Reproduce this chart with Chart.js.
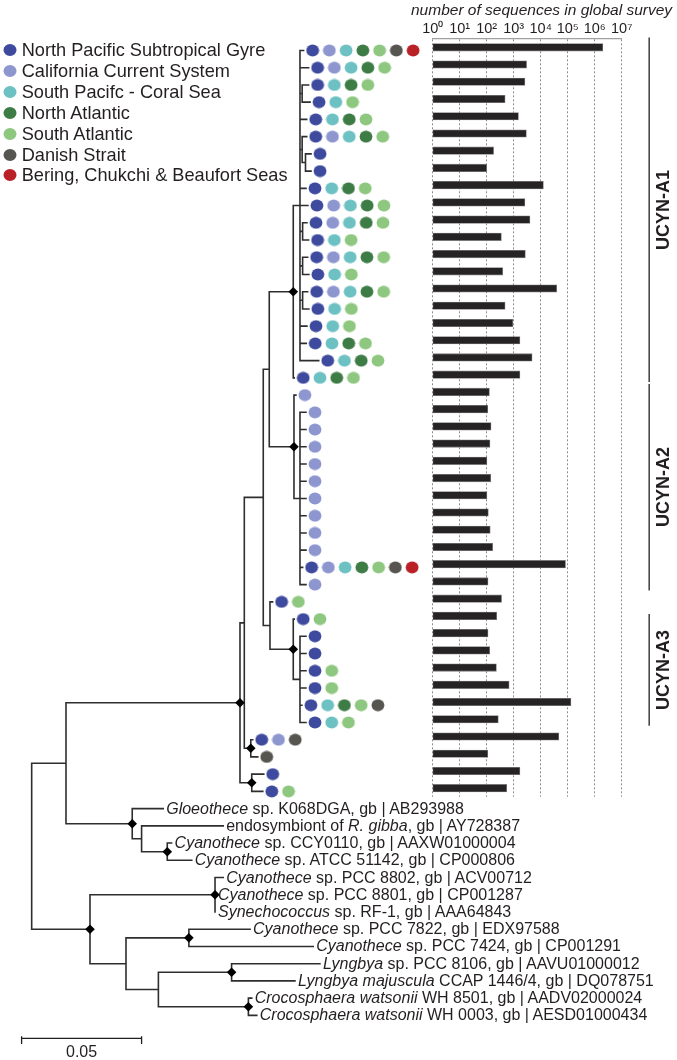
<!DOCTYPE html>
<html><head><meta charset="utf-8">
<script src="https://cdn.jsdelivr.net/npm/chart.js@4.4.1/dist/chart.umd.min.js"></script>
<style>
html,body{margin:0;padding:0;background:#fff;}
#wrap{position:relative;width:677px;height:1060px;overflow:hidden;font-family:"Liberation Sans",Arial,Helvetica,sans-serif;color:#231f20;}
#wrap canvas{position:absolute;}
#tree{left:0;top:0;z-index:1;}
#bars{left:400px;top:0;z-index:2;}
.t{position:absolute;white-space:nowrap;line-height:1;z-index:3;}
.sp{font-size:16px;transform:translateY(-50%);}
.leg{font-size:18.2px;transform:translateY(-50%);}
.legdot{position:absolute;width:13px;height:12px;border-radius:50%;transform:translate(-50%,-50%);z-index:3;}
.clade{font-size:18px;font-weight:bold;transform:translate(-50%,-50%) rotate(-90deg);}
#title{font-size:15.5px;font-style:italic;transform:translateY(-50%);}
#scalelbl{font-size:16px;transform:translate(-50%,-50%);}
</style></head>
<body>
<div id="wrap">
<canvas id="tree" width="677" height="1060"></canvas>
<canvas id="bars" width="277" height="810"></canvas>
</div>
<script>
// ---------- data ----------
const regionNames = ['North Pacific Subtropical Gyre','California Current System','South Pacifc - Coral Sea','North Atlantic','South Atlantic','Danish Strait','Bering, Chukchi & Beaufort Seas'];
const regionColors = ['#3d4a9e','#8d96cf','#6dc1c3','#3e7c46','#8ec77f','#56554f','#b92127'];
// regions (1..7) in which each UCYN-A sequence was found, one string per tree row
const rowRegions = ['1234567','12345','1345','135','1345','12345','1','1','1345','12345',
  '12345','135','12345','135','12345','135','135','1345','1345','1345',
  '2','2','2','2','2','2','2','2','2','2',
  '1234567','2','15','15','1','1','15','15','13456','135',
  '126','6','1','15'];
// number of sequences in global survey, one per row
const seqCounts = [2000000,3000,2600,480,1500,2950,180,100,12600,2600,
  4000,350,2700,390,39000,480,930,1700,4800,1700,
  126,110,145,132,102,141,102,115,135,166,
  83000,112,355,234,112,129,229,676,132000,269,
  47000,110,1700,550];
const rowIds = seqCounts.map((_, i) => 'seq ' + (i + 1));
const tickValues = [1,10,100,1000,10000,100000,1000000,10000000];
const tickLabels = ['10⁰','10¹','10²','10³','10⁴','10⁵','10⁶','10⁷'];
// tip distances from root (substitutions/site), rows 0..56
const tipDist = [0.1133,0.1154,0.1154,0.1160,0.1146,0.1146,0.1164,0.1164,0.1143,0.1151,
  0.1147,0.1154,0.1150,0.1155,0.1150,0.1155,0.1147,0.1144,0.1196,0.1094,
  0.1101,0.1143,0.1143,0.1143,0.1143,0.1143,0.1143,0.1143,0.1143,0.1143,
  0.1129,0.1143,0.1004,0.1094,0.1143,0.1143,0.1143,0.1143,0.1126,0.1143,
  0.0921,0.0942,0.0967,0.0963,
  0.0548,0.0798,0.0583,0.0667,0.0798,0.0764,0.0764,0.0910,0.1173,0.1201,0.1097,0.0917,0.0938];
const speciesLabels = [
  '<i>Gloeothece</i> sp. K068DGA, gb | AB293988',
  'endosymbiont of <i>R. gibba</i>, gb | AY728387',
  '<i>Cyanothece</i> sp. CCY0110, gb | AAXW01000004',
  '<i>Cyanothece</i> sp. ATCC 51142, gb | CP000806',
  '<i>Cyanothece</i> sp. PCC 8802, gb | ACV00712',
  '<i>Cyanothece</i> sp. PCC 8801, gb | CP001287',
  '<i>Synechococcus</i> sp. RF-1, gb | AAA64843',
  '<i>Cyanothece</i> sp. PCC 7822, gb | EDX97588',
  '<i>Cyanothece</i> sp. PCC 7424, gb | CP001291',
  '<i>Lyngbya</i> sp. PCC 8106, gb | AAVU01000012',
  '<i>Lyngbya majuscula</i> CCAP 1446/4, gb | DQ078751',
  '<i>Crocosphaera watsonii</i> WH 8501, gb | AADV02000024',
  '<i>Crocosphaera watsonii</i> WH 0003, gb | AESD01000434'];
const cladeNames = ['UCYN-A1','UCYN-A2','UCYN-A3'];
const cladeStart = [-0.72, 19.4, 32.75];
const cladeEnd = [19.2, 31.3, 39.15];
const scaleBarLength = 0.05;
// tree topology: N(distance, children, supported-node)
const N = (x, c, d) => ({x, c, d: !!d});
const treeRoot = N(0, [
  N(0.0143, [
    N(0.0868, [
      N(0.0886, [
        N(0.0965, [
          N(0.0990, [
            N(0.1090, [
              N(0.1118, [0, 1, N(0.1127, [2, 3]), 4, N(0.1127, [5, N(0.1141, [6, 7])]), 8, 9,
                N(0.1129, [10, 11]), N(0.1129, [12, 13]), N(0.1129, [14, 15]), 16, 17, 18]),
              19], true),
            N(0.1093, [20, N(0.1118, [21, 22, 23, 24, 25, 26, 27, 28, 29, 30, 31])], true)
          ]),
          N(0.0993, [32, N(0.1090, [33, N(0.1118, [34, 35, 36, 37, 38, 39])], true)])
        ]),
        N(0.0913, [40, 41], true)
      ]),
      N(0.0917, [42, 43], true)
    ], true),
    N(0.0419, [44, N(0.0458, [45, N(0.0565, [46, 47], true)])], true)
  ]),
  N(0.0243, [
    N(0.0764, [48, 49, 50], true),
    N(0.0393, [N(0.0655, [51, 52], true), N(0.0528, [N(0.0833, [53, 54], true), N(0.0903, [55, 56], true)])])
  ], true)
]);

// ---------- layout constants ----------
const W = 677, H = 1060;
const X_MIN = -0.0132, X_MAX = 0.2689, Y_MIN = -2.93, Y_MAX = 58.59;
const PX_PER_UNIT = W / (X_MAX - X_MIN);
const DOT_GAP = 9, DOT_STEP = 16.75;
const CLADE_X = 0.2573, CLADE_LABEL_X = 0.2632;
const SCALE_X0 = -0.0042, SCALE_Y = 57.33, SCALE_TICK = 0.3;
const FONT = '"Liberation Sans", Arial, Helvetica, sans-serif';

function dotImage(color) {
  const c = document.createElement('canvas');
  c.width = 14; c.height = 13;
  const g = c.getContext('2d');
  g.fillStyle = color;
  g.beginPath(); g.ellipse(7, 6.5, 6.4, 5.9, 0, 0, Math.PI * 2); g.fill();
  return c;
}

function place(node) {
  if (typeof node === 'number') return node;
  const ys = node.c.map(place);
  node.y = (ys[0] + ys[ys.length - 1]) / 2;
  return node.y;
}
place(treeRoot);
const branchPts = [], diamonds = [];
function seg(x1, y1, x2, y2) { branchPts.push({x: x1, y: y1}, {x: x2, y: y2}, {x: null, y: null}); }
function walk(node) {
  const ys = node.c.map(k => typeof k === 'number' ? k : k.y);
  seg(node.x, ys[0], node.x, ys[ys.length - 1]);
  node.c.forEach((k, j) => {
    const kx = typeof k === 'number' ? tipDist[k] : k.x;
    seg(node.x, ys[j], kx, ys[j]);
    if (typeof k !== 'number') walk(k);
  });
  if (node.d) diamonds.push({x: node.x, y: node.y});
}
walk(treeRoot);

const dotData = regionColors.map(() => []);
rowRegions.forEach((codes, row) => {
  [...codes].forEach((ch, k) => {
    dotData[+ch - 1].push({x: tipDist[row] + (DOT_GAP + k * DOT_STEP) / PX_PER_UNIT, y: row});
  });
});
const cladePts = [];
cladeNames.forEach((c, i) => cladePts.push({x: CLADE_X, y: cladeStart[i]}, {x: CLADE_X, y: cladeEnd[i]}, {x: null, y: null}));
const scalePts = [
  {x: SCALE_X0, y: SCALE_Y - 0.08}, {x: SCALE_X0, y: SCALE_Y + SCALE_TICK}, {x: null, y: null},
  {x: SCALE_X0, y: SCALE_Y}, {x: SCALE_X0 + scaleBarLength, y: SCALE_Y}, {x: null, y: null},
  {x: SCALE_X0 + scaleBarLength, y: SCALE_Y - 0.08}, {x: SCALE_X0 + scaleBarLength, y: SCALE_Y + SCALE_TICK}];

const lineDs = (label, data, color, width) => ({label, data, showLine: true, pointRadius: 0, borderColor: color,
  borderWidth: width, borderCapStyle: 'square', spanGaps: false, fill: false});

const treeChart = new Chart(document.getElementById('tree'), {
  type: 'scatter',
  data: {datasets: [
    ...dotData.map((d, i) => ({label: regionNames[i], data: d, pointStyle: dotImage(regionColors[i]), pointRadius: 6, showLine: false})),
    {label: 'supported nodes', data: diamonds, pointStyle: 'rectRot', pointRadius: 4.8, backgroundColor: '#000', borderWidth: 0, showLine: false},
    lineDs('branches', branchPts, '#2e2e2e', 1.6),
    lineDs('clades', cladePts, '#231f20', 1.3),
    lineDs('scale', scalePts, '#231f20', 1.3)
  ]},
  options: {
    responsive: false, animation: false, events: [],
    layout: {padding: 0, autoPadding: false},
    plugins: {legend: {display: false}, tooltip: {enabled: false}},
    scales: {
      x: {type: 'linear', min: X_MIN, max: X_MAX, display: false},
      y: {type: 'linear', min: Y_MIN, max: Y_MAX, reverse: true, display: false}
    }
  }
});

const barChart = new Chart(document.getElementById('bars'), {
  type: 'bar',
  data: {labels: rowIds, datasets: [{label: 'number of sequences in global survey', data: seqCounts,
    backgroundColor: '#262324', borderColor: '#7a7878', borderWidth: 0.8, borderSkipped: false, barThickness: 7.5}]},
  options: {
    indexAxis: 'y', responsive: false, animation: false, events: [],
    layout: {padding: {left: 32.7, right: 55.3, top: 0, bottom: 13.2}, autoPadding: false},
    plugins: {legend: {display: false}, tooltip: {enabled: false}},
    scales: {
      x: {type: 'logarithmic', position: 'top', min: 1, max: 10000000,
        afterBuildTicks: s => { s.ticks = tickValues.map(v => ({value: v})); },
        afterFit: s => { s.height = 38.7; },
        ticks: {callback: (v, i) => tickLabels[i], font: {family: FONT, size: 14.5}, color: '#231f20', padding: 1, maxRotation: 0, autoSkip: false},
        grid: {color: '#8c8c8c', lineWidth: 1, drawTicks: false},
        border: {display: true, color: '#a0a0a0', width: 1.3, dash: [2, 2]}
      },
      y: {display: false}
    }
  }
});

// ---------- text ----------
const wrap = document.getElementById('wrap');
const xs = treeChart.scales.x, ys = treeChart.scales.y;
function addText(cls, html, left, top, id) {
  const el = document.createElement('div');
  el.className = 't ' + cls; el.innerHTML = html;
  el.style.left = left + 'px'; el.style.top = top + 'px';
  if (id) el.id = id;
  wrap.appendChild(el);
  return el;
}
addText('', 'number of sequences in global survey', 411, 10, 'title');
regionNames.forEach((n, i) => {
  const y = 50 + 20.9 * i;
  const d = document.createElement('div');
  d.className = 'legdot'; d.style.left = '9.5px'; d.style.top = y + 'px'; d.style.background = regionColors[i];
  wrap.appendChild(d);
  addText('leg', n, 21.7, y);
});
speciesLabels.forEach((html, j) => {
  const row = 44 + j;
  addText('sp', html, xs.getPixelForValue(tipDist[row]) + 3, ys.getPixelForValue(row));
});
cladeNames.forEach((c, i) => {
  addText('clade', c, xs.getPixelForValue(CLADE_LABEL_X), ys.getPixelForValue((cladeStart[i] + cladeEnd[i]) / 2));
});
addText('', '0.05', xs.getPixelForValue(SCALE_X0 + scaleBarLength / 2), ys.getPixelForValue(SCALE_Y) + 14, 'scalelbl');
</script>
</body></html>
